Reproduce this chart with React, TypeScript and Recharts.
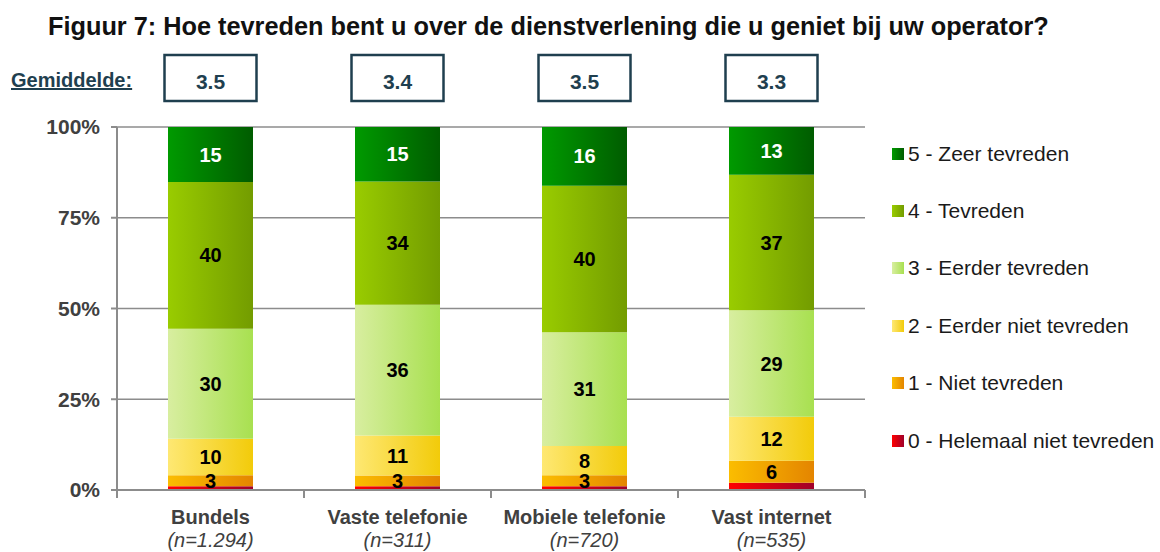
import { BarChart, Bar, XAxis, YAxis, CartesianGrid, LabelList } from 'recharts';

const categories = ['Bundels', 'Vaste telefonie', 'Mobiele telefonie', 'Vast internet'];
const sampleSizes = ['(n=1.294)', '(n=311)', '(n=720)', '(n=535)'];
const averages = ['3.5', '3.4', '3.5', '3.3'];

// scores per category, bottom (0) to top (5)
const score0 = [1, 1, 1, 2];
const score1 = [3, 3, 3, 6];
const score2 = [10, 11, 8, 12];
const score3 = [30, 36, 31, 29];
const score4 = [40, 34, 40, 37];
const score5 = [15, 15, 16, 13];

const yTicks = [0, 0.25, 0.5, 0.75, 1];

const series = [
  { key: 's0', name: '0 - Helemaal niet tevreden', from: '#ff0000', to: '#a0002a', label: null },
  { key: 's1', name: '1 - Niet tevreden', from: '#fbbd00', to: '#e48500', label: '#000' },
  { key: 's2', name: '2 - Eerder niet tevreden', from: '#fee873', to: '#f2cb0a', label: '#000' },
  { key: 's3', name: '3 - Eerder tevreden', from: '#d8eea0', to: '#a8e050', label: '#000' },
  { key: 's4', name: '4 - Tevreden', from: '#99cc00', to: '#739c00', label: '#000' },
  { key: 's5', name: '5 - Zeer tevreden', from: '#009a00', to: '#005c00', label: '#fff' },
];

const data = categories.map((name, i) => ({
  name,
  s0: score0[i],
  s1: score1[i],
  s2: score2[i],
  s3: score3[i],
  s4: score4[i],
  s5: score5[i],
}));

const FONT = '"Liberation Sans", Arial, sans-serif';
const GRAY = '#8c8c8c';
const DARK = '#1f3f4f';
const PLOT_LEFT = 117;
const PLOT_RIGHT = 865;
const PLOT_BOTTOM = 490;
const HALF_BAND = (PLOT_RIGHT - PLOT_LEFT) / categories.length / 2;

function CategoryTick(props: any) {
  const { x, index } = props;
  const last = index === categories.length - 1;
  return (
    <g>
      <line x1={x - HALF_BAND} x2={x - HALF_BAND} y1={PLOT_BOTTOM} y2={PLOT_BOTTOM + 8} stroke={GRAY} strokeWidth={2} />
      {last && (
        <line x1={x + HALF_BAND} x2={x + HALF_BAND} y1={PLOT_BOTTOM} y2={PLOT_BOTTOM + 8} stroke={GRAY} strokeWidth={2} />
      )}
      <text x={x} y={524} textAnchor="middle" fontFamily={FONT} fontSize={20} fontWeight="bold" fill="#404040">
        {categories[index]}
      </text>
      <text x={x} y={547} textAnchor="middle" fontFamily={FONT} fontSize={20} fontStyle="italic" fill="#404040">
        {sampleSizes[index]}
      </text>
    </g>
  );
}

function AverageTick(props: any) {
  const { x, index } = props;
  return (
    <g>
      <rect x={x - 46} y={55} width={92} height={46} fill="#fff" stroke={DARK} strokeWidth={2.5} />
      <text x={x} y={89} textAnchor="middle" fontFamily={FONT} fontSize={21} fontWeight="bold" fill={DARK}>
        {averages[index]}
      </text>
    </g>
  );
}

function SegmentLabel(color: string) {
  return (props: any) => {
    const { x, y, width, height, value } = props;
    return (
      <text
        x={x + width / 2}
        y={y + height / 2}
        dy={7}
        textAnchor="middle"
        fontFamily={FONT}
        fontSize={20}
        fontWeight="bold"
        fill={color}
      >
        {value}
      </text>
    );
  };
}

function LegendBox() {
  const items = [...series].reverse();
  return (
    <div style={{ position: 'absolute', left: 892, top: 125, fontFamily: FONT, fontSize: 21, color: '#1a1a1a' }}>
      {items.map((s) => (
        <div key={s.key} style={{ display: 'flex', alignItems: 'center', height: 57.4 }}>
          <span
            style={{
              width: 12,
              height: 12,
              marginRight: 4,
              background: `linear-gradient(to right, ${s.from}, ${s.to})`,
            }}
          />
          <span style={{ whiteSpace: 'nowrap' }}>{s.name}</span>
        </div>
      ))}
    </div>
  );
}

export default function App() {
  return (
    <div style={{ position: 'relative', width: 1160, height: 552, background: '#fff', fontFamily: FONT }}>
      <style>{'body{margin:0}'}</style>
      <div
        style={{
          position: 'absolute',
          left: 48,
          top: 11,
          lineHeight: '30px',
          fontSize: 25.3,
          fontWeight: 'bold',
          color: '#111',
          whiteSpace: 'nowrap',
        }}
      >
        Figuur 7: Hoe tevreden bent u over de dienstverlening die u geniet bij uw operator?
      </div>
      <div
        style={{
          position: 'absolute',
          left: 11,
          top: 68,
          lineHeight: '24px',
          fontSize: 20,
          fontWeight: 'bold',
          color: DARK,
          textDecoration: 'underline',
        }}
      >
        Gemiddelde:
      </div>
      <BarChart
        width={1160}
        height={552}
        data={data}
        stackOffset="expand"
        barSize={85}
        margin={{ top: 57, right: 295, bottom: 12, left: 0 }}
      >
        <defs>
          {series.map((s) => (
            <linearGradient key={s.key} id={`grad-${s.key}`} x1="0" y1="0" x2="1" y2="0">
              <stop offset="0%" stopColor={s.from} />
              <stop offset="100%" stopColor={s.to} />
            </linearGradient>
          ))}
        </defs>
        <CartesianGrid horizontal vertical={false} stroke={GRAY} strokeWidth={1.5} />
        <XAxis
          dataKey="name"
          axisLine={{ stroke: GRAY, strokeWidth: 2 }}
          tickLine={false}
          tick={<CategoryTick />}
          height={50}
          interval={0}
        />
        <XAxis
          xAxisId="top"
          dataKey="name"
          orientation="top"
          axisLine={false}
          tickLine={false}
          tick={<AverageTick />}
          height={70}
          interval={0}
        />
        <YAxis
          width={117}
          domain={[0, 1]}
          ticks={yTicks}
          tickFormatter={(v: number) => `${Math.round(v * 100)}%`}
          axisLine={{ stroke: GRAY, strokeWidth: 2 }}
          tickLine={{ stroke: GRAY, strokeWidth: 2 }}
          tickSize={6}
          tickMargin={11}
          tick={{ fontFamily: FONT, fontSize: 21, fontWeight: 'bold', fill: '#404040' }}
        />
        {series.map((s) => (
          <Bar key={s.key} dataKey={s.key} name={s.name} stackId="a" fill={`url(#grad-${s.key})`} isAnimationActive={false}>
            {s.label && <LabelList dataKey={s.key} content={SegmentLabel(s.label)} />}
          </Bar>
        ))}
      </BarChart>
      <LegendBox />
    </div>
  );
}
